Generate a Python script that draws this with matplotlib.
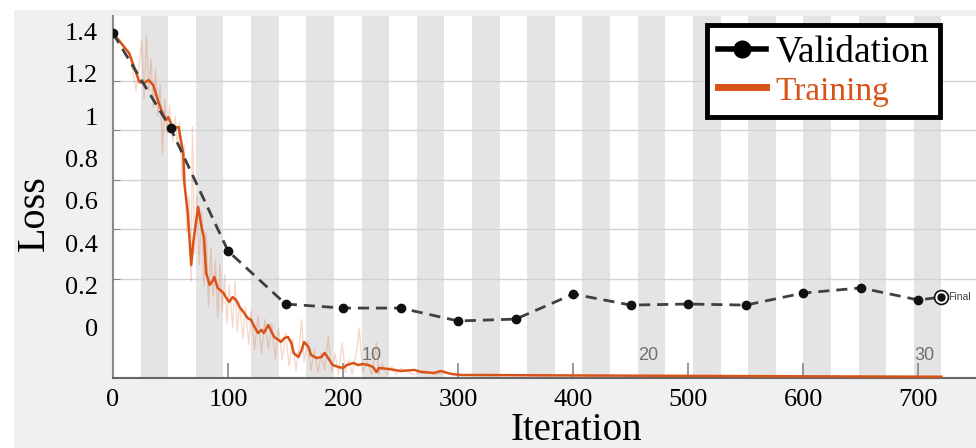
import matplotlib
matplotlib.use("Agg")
import matplotlib.pyplot as plt
from matplotlib.lines import Line2D
from matplotlib.patches import Rectangle
import numpy as np

# validation loss, every 50 iterations, plus final point
val_iter = [0, 50, 100, 150, 200, 250, 300, 350, 400, 450, 500, 550, 600, 650, 700]
val_loss = [1.39, 0.943, 0.363, 0.113, 0.094, 0.094, 0.033, 0.042, 0.160, 0.108,
            0.113, 0.108, 0.165, 0.189, 0.132]
final_iter = 720
final_loss = 0.146

# smoothed training loss
train_iter = [0, 5, 14, 23, 27, 31, 35, 39, 42, 46, 48, 52, 57, 61, 62, 65, 68, 70,
              74, 77, 79, 81, 84, 87, 88, 91, 96, 98, 101, 104, 107, 110, 114, 117,
              120, 123, 126, 129, 131, 135, 137, 140, 144, 146, 149, 152, 155, 157,
              161, 164, 166, 170, 172, 177, 181, 184, 187, 191, 196, 200, 203, 209,
              213, 217, 222, 226, 229, 231, 239, 250, 262, 268, 279, 285, 294, 303,
              320, 400, 500, 600, 720]
train_loss = [1.387, 1.358, 1.297, 1.160, 1.156, 1.170, 1.146, 1.075, 1.028, 0.981,
              0.995, 0.943, 0.948, 0.825, 0.684, 0.542, 0.297, 0.415, 0.571, 0.476,
              0.429, 0.259, 0.203, 0.226, 0.241, 0.189, 0.165, 0.146, 0.123, 0.146,
              0.132, 0.099, 0.071, 0.047, 0.038, 0.005, -0.024, -0.009, -0.024, 0.014,
              -0.009, -0.042, -0.057, -0.066, -0.047, -0.042, -0.071, -0.118, -0.137,
              -0.104, -0.066, -0.090, -0.127, -0.142, -0.137, -0.118, -0.142, -0.175,
              -0.184, -0.189, -0.175, -0.165, -0.175, -0.170, -0.175, -0.184, -0.208,
              -0.189, -0.193, -0.203, -0.198, -0.208, -0.212, -0.203, -0.217, -0.222,
              -0.222, -0.224, -0.226, -0.228, -0.230]

# raw (unsmoothed) training loss, faint
raw_iter = [0, 5, 10, 14, 17, 20, 23, 25, 27, 29, 31, 33, 35, 37, 39, 41, 43, 45, 47,
            49, 52, 54, 56, 58, 60, 62, 64, 66, 68, 69, 71, 73, 75, 77, 79, 81, 83,
            85, 87, 89, 91, 93, 95, 97, 99, 101, 104, 106, 108, 110, 113, 115, 118,
            120, 123, 126, 129, 132, 135, 138, 141, 144, 147, 150, 153, 156, 159,
            162, 164, 166, 169, 172, 175, 178, 181, 184, 187, 190, 193, 196, 199,
            202, 205, 208, 212, 214, 217, 221, 225, 229, 231, 234, 238, 242, 246,
            250, 256, 262, 270, 280, 290, 300]
raw_loss = [1.39, 1.36, 1.32, 1.30, 1.22, 1.12, 1.25, 1.36, 1.08, 1.38, 1.12, 1.27,
            1.04, 1.22, 1.00, 1.15, 0.82, 1.08, 0.92, 1.05, 0.88, 1.00, 0.86, 0.97,
            0.70, 0.86, 0.45, 0.62, 0.22, 0.95, 0.35, 0.62, 0.30, 0.55, 0.20, 0.45,
            0.10, 0.38, 0.15, 0.32, 0.05, 0.30, 0.08, 0.25, 0.02, 0.20, 0.00, 0.22,
            -0.02, 0.12, -0.05, 0.10, -0.08, 0.08, -0.10, 0.06, -0.12, 0.04, -0.10,
            0.02, -0.15, 0.00, -0.15, -0.02, -0.18, -0.05, -0.20, -0.08, 0.04, -0.16,
            -0.06, -0.20, -0.10, -0.21, -0.12, -0.20, -0.04, -0.21, -0.12, -0.22,
            -0.07, -0.21, -0.15, -0.22, -0.10, 0.00, -0.21, -0.16, -0.22, -0.07,
            -0.22, -0.17, -0.22, -0.18, -0.22, -0.19, -0.21, -0.22, -0.20, -0.22,
            -0.21, -0.22]

n_epochs = 30
iters_per_epoch = 24
epoch_labels = [10, 20, 30]

x_ticks = [0, 100, 200, 300, 400, 500, 600, 700]
y_ticks = [0, 0.2, 0.4, 0.6, 0.8, 1.0, 1.2, 1.4]
y_ticklabels = ["0", "0.2", "0.4", "0.6", "0.8", "1", "1.2", "1.4"]

orange = "#D95319"
serif = ["Liberation Serif", "DejaVu Serif"]
narrow = ["Liberation Sans Narrow", "Liberation Sans", "DejaVu Sans"]

W, H = 976, 448
fig = plt.figure(figsize=(W / 100, H / 100), dpi=100, facecolor="white")
fig.patches.append(Rectangle((14 / W, 0), 1, 1 - 10 / H, transform=fig.transFigure,
                             facecolor="#f0f0f0", edgecolor="none", zorder=-10))
ax = fig.add_axes([113 / W, 1 - 378 / H, (976 - 113) / W, (378 - 16) / H])
ax.set_facecolor("white")
ax.set_xlim(0, 750)
ax.set_ylim(-0.236, 1.472)

# epoch shading
for e in range(1, n_epochs + 1):
    if e % 2 == 0:
        ax.axvspan((e - 1) * iters_per_epoch, e * iters_per_epoch,
                   color="#e4e4e4", lw=0, zorder=0)

# original grid lines (minor ticks)
grid_y = np.linspace(0, 1.4, 7)
ax.set_yticks(grid_y, minor=True)
ax.grid(True, which="minor", axis="y", color="#d2d2d2", lw=1.0, zorder=1)

ax.set_yticks(y_ticks)
ax.set_yticklabels(y_ticklabels, family=serif, fontsize=19)
ax.tick_params(axis="y", which="major", length=0, pad=11)
ax.tick_params(axis="y", which="minor", direction="in", length=5, color="#777777")

ax.set_xticks(x_ticks)
ax.set_xticklabels([str(t) for t in x_ticks], family=serif, fontsize=19)
ax.tick_params(axis="x", direction="in", length=11, color="#888888", width=1.2, pad=8)

for s in ["top", "right"]:
    ax.spines[s].set_visible(False)
ax.spines["left"].set_color("#8a8a8a")
ax.spines["left"].set_linewidth(1.5)
ax.spines["bottom"].set_color("#666666")
ax.spines["bottom"].set_linewidth(1.5)

# epoch labels
for ep in epoch_labels:
    ax.text((ep - 1) * iters_per_epoch, -0.13, str(ep), family=narrow, fontsize=13,
            color="#707070", ha="left", va="center", zorder=2)

# training
ax.plot(raw_iter, raw_loss, color=orange, alpha=0.22, lw=1.0, zorder=3)
ax.plot(train_iter, train_loss, color=orange, lw=1.8, zorder=4)

# validation
ax.plot(val_iter + [final_iter], val_loss + [final_loss], color="#404040", lw=2,
        dashes=(4, 2.5), zorder=5)
ax.plot(val_iter, val_loss, ls="none", marker="o", ms=6, color="#111111", zorder=6)
ax.plot([final_iter], [final_loss], ls="none", marker="o", ms=10, mfc="white",
        mec="#111111", mew=1.2, zorder=6)
ax.plot([final_iter], [final_loss], ls="none", marker="o", ms=5, color="#111111", zorder=7)
ax.text(final_iter + 6, final_loss, "Final", family=narrow, fontsize=7.5,
        color="#444444", ha="left", va="center", zorder=7)

# legend
handles = [Line2D([], [], color="black", marker="o", lw=4, ms=12),
           Line2D([], [], color=orange, lw=5)]
leg = ax.legend(handles, ["Validation", "Training"], loc="upper right",
                bbox_to_anchor=((940 - 113) / 863, (378 - 25) / 362),
                borderaxespad=0, prop={"family": serif, "size": 27},
                handlelength=1.3, handletextpad=0.25, labelspacing=0.1,
                borderpad=0.28, fancybox=False, framealpha=1, edgecolor="black")
leg.get_frame().set_linewidth(3.5)
leg.set_zorder(10)
leg.get_texts()[1].set_color(orange)
leg.get_texts()[1].set_fontsize(24)

# axis labels
fig.text(34 / W, 1 - 213 / H, "Loss", family=serif, fontsize=29, rotation=90,
         ha="center", va="center")
fig.text(576 / W, 1 - 430 / H, "Iteration", family=serif, fontsize=28,
         ha="center", va="center")

fig.savefig("out.png", dpi=100, facecolor=fig.get_facecolor())
